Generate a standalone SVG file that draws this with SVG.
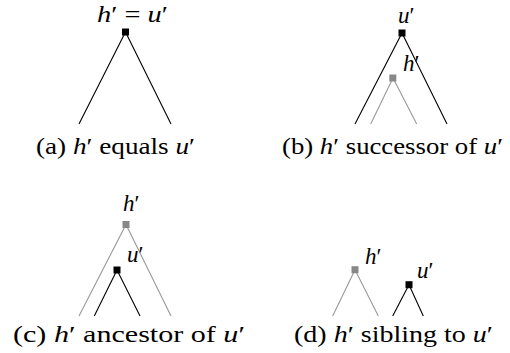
<svg xmlns="http://www.w3.org/2000/svg" width="510" height="353" viewBox="0 0 510 353">
<style>
text{font-family:"Liberation Serif",serif;font-size:23px;fill:#000}
.i{font-style:italic}
.blk{stroke:#000;stroke-width:1.1;fill:none}
.gry{stroke:#999;stroke-width:1.1;fill:none}
.bs{fill:#000}
.gs{fill:#888}
</style>
<rect width="510" height="353" fill="#fff"/>
<g id="connectors">
<polyline class="blk" points="79,124 125.5,32 171,124"/>
<polyline class="blk" points="355,124 402,33 447,124"/>
<polyline class="gry" points="370.7,124 393,78 416.7,124"/>
<polyline class="gry" points="79,316 126,224.5 171,316"/>
<polyline class="blk" points="94.3,316 117,270 140,316"/>
<polyline class="gry" points="332.7,316 355,269.7 378.3,316"/>
<polyline class="blk" points="392.7,316 409,284.7 423.3,316"/>
</g>
<g id="panel-a">
<g id="a-node"><rect class="bs" x="122" y="28.5" width="7" height="7"/><text x="97" y="22" textLength="71" lengthAdjust="spacingAndGlyphs"><tspan class="i">h</tspan>′ = <tspan class="i">u</tspan>′</text></g>
<text x="36" y="154" textLength="159" lengthAdjust="spacingAndGlyphs">(a) <tspan class="i">h</tspan>′ equals <tspan class="i">u</tspan>′</text>
</g>
<g id="panel-b">
<g id="b-u"><rect class="bs" x="398.5" y="29.5" width="7" height="7"/><text x="398" y="23"><tspan class="i">u</tspan>′</text></g>
<g id="b-h"><rect class="gs" x="389.3" y="74.5" width="7" height="7"/><text x="403" y="71"><tspan class="i">h</tspan>′</text></g>
<text x="282" y="154" textLength="221" lengthAdjust="spacingAndGlyphs">(b) <tspan class="i">h</tspan>′ successor of <tspan class="i">u</tspan>′</text>
</g>
<g id="panel-c">
<g id="c-h"><rect class="gs" x="122.5" y="221" width="7" height="7"/><text x="123" y="211"><tspan class="i">h</tspan>′</text></g>
<g id="c-u"><rect class="bs" x="113.5" y="266.5" width="7" height="7"/><text x="127" y="262"><tspan class="i">u</tspan>′</text></g>
<text x="13" y="341.5" textLength="232" lengthAdjust="spacingAndGlyphs">(c) <tspan class="i">h</tspan>′ ancestor of <tspan class="i">u</tspan>′</text>
</g>
<g id="panel-d">
<g id="d-h"><rect class="gs" x="351.5" y="266.2" width="7" height="7"/><text x="365" y="263.5"><tspan class="i">h</tspan>′</text></g>
<g id="d-u"><rect class="bs" x="405.5" y="281.2" width="7" height="7"/><text x="417" y="277.5"><tspan class="i">u</tspan>′</text></g>
<text x="294" y="341.5" textLength="199" lengthAdjust="spacingAndGlyphs">(d) <tspan class="i">h</tspan>′ sibling to <tspan class="i">u</tspan>′</text>
</g>
</svg>
